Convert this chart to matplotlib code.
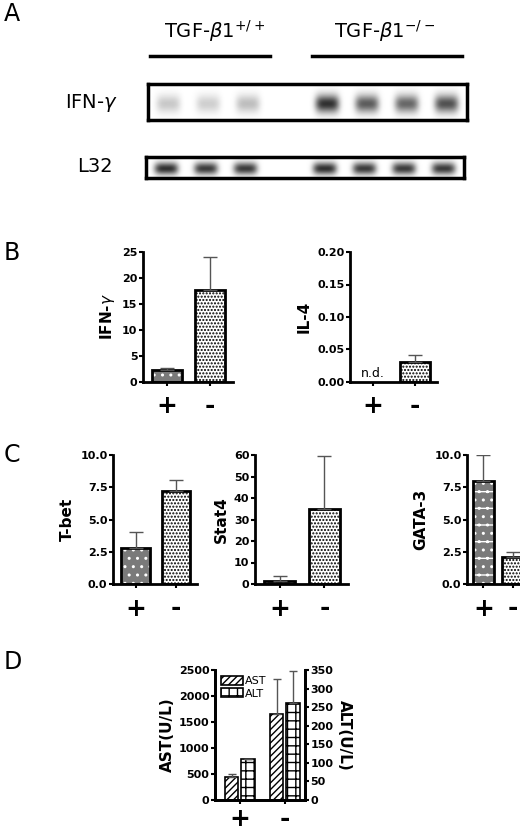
import numpy as np
import matplotlib.pyplot as plt

W, H = 520, 831

# gel band intensities per lane (0..1), estimated
ifn_lanes = [0.25, 0.22, 0.3, 0.0, 0.95, 0.75, 0.7, 0.8]
l32_lanes = [0.95, 0.9, 0.9, 0.0, 0.95, 0.9, 0.9, 0.9]

groups = ['+', '-']
ifn_vals, ifn_err = [2.4, 17.7], [0.3, 6.4]
il4_vals, il4_err = [0.0, 0.03], [0.0, 0.012]
tbet_vals, tbet_err = [2.8, 7.2], [1.2, 0.85]
stat4_vals, stat4_err = [1.5, 35.0], [2.0, 24.5]
gata_vals, gata_err = [8.0, 2.1], [2.0, 0.4]
ast_vals, ast_err = [450, 1650], [50, 680]
alt_vals, alt_err = [110, 262], [0, 85]

plt.rcParams['font.family'] = 'DejaVu Sans'
plt.rcParams['hatch.linewidth'] = 1.0
fig = plt.figure(figsize=(W / 100, H / 100), dpi=100)


def ax_px(x0, y0, x1, y1):
    return fig.add_axes([x0 / W, 1 - y1 / H, (x1 - x0) / W, (y1 - y0) / H])


def ftxt(x, y, s, **kw):
    fig.text(x / W, 1 - y / H, s, **kw)


# panel A
ftxt(4, 14, 'A', fontsize=17, va='center')
ftxt(215, 31, r'TGF-$\beta$1$^{+/+}$', fontsize=14, ha='center', va='center')
ftxt(385, 31, r'TGF-$\beta$1$^{-/-}$', fontsize=14, ha='center', va='center')
for xa, xb in [(150, 270), (312, 462)]:
    fig.add_artist(plt.Line2D([xa / W, xb / W], [1 - 56 / H] * 2, color='black', lw=2.5))


def gel(ax, lanes, width):
    nx, ny = 320, 40
    xs = np.linspace(0, len(lanes), nx)
    ys = np.linspace(0, 1, ny)
    img = np.zeros((ny, nx))
    for i, v in enumerate(lanes):
        gx = np.exp(-((xs - i - 0.5) / 0.3) ** 4)
        gy = np.exp(-((ys - 0.55) / width) ** 2)
        img += v * np.outer(gy, gx)
    ax.imshow(1 - np.clip(img, 0, 1) * 0.85, cmap='gray', vmin=0, vmax=1,
              aspect='auto', extent=[0, len(lanes), 0, 1])
    ax.set_xticks([]); ax.set_yticks([])
    for s in ax.spines.values():
        s.set_linewidth(2.5)


gel(ax_px(148, 84, 467, 120), ifn_lanes, 0.25)
ftxt(118, 103, r'IFN-$\gamma$', fontsize=14, ha='right', va='center')
gel(ax_px(146, 157, 464, 178), l32_lanes, 0.3)
ftxt(113, 167, 'L32', fontsize=14, ha='right', va='center')

STYLES = {
    'plus': dict(face='#7a7a7a', hcol='white', hatch='..'),
    'minus': dict(face='white', hcol='black', hatch='.....'),
    'stripe': dict(face='#7a7a7a', hcol='white', hatch='-..'),
}


def draw_bar(ax, x, v, w, style):
    st = STYLES[style]
    ax.bar(x, v, w, color=st['face'], edgecolor=st['hcol'], hatch=st['hatch'], lw=0)
    ax.bar(x, v, w, color='none', edgecolor='black', lw=2)


def bars(ax, vals, errs, ylabel, ylim, ticks, fmt, styles=('plus', 'minus')):
    x = np.arange(2)
    for i in range(2):
        if vals[i] > 0:
            draw_bar(ax, x[i], vals[i], 0.7, styles[i])
        if errs[i] > 0:
            ax.errorbar(x[i], vals[i], yerr=[[0], [errs[i]]], color='#555555', capsize=5, lw=1)
    ax.set_xlim(-0.56, 1.53)
    ax.set_ylim(*ylim)
    ax.set_yticks(ticks)
    ax.set_yticklabels([fmt.format(t) for t in ticks], fontsize=8, fontweight='bold')
    ax.set_xticks(x)
    ax.set_xticklabels(groups, fontsize=18, fontweight='bold')
    ax.tick_params(axis='x', pad=6, length=3, width=1.5)
    ax.tick_params(axis='y', pad=1, length=3, width=1.5)
    ax.set_ylabel(ylabel, fontsize=11, fontweight='bold', labelpad=4)
    for s in ['top', 'right']:
        ax.spines[s].set_visible(False)
    for s in ['left', 'bottom']:
        ax.spines[s].set_linewidth(2)


ftxt(4, 253, 'B', fontsize=17, va='center')
ax = ax_px(143, 252, 233, 382)
bars(ax, ifn_vals, ifn_err, r'IFN-$\gamma$', (0, 25), [0, 5, 10, 15, 20, 25], '{:g}')
ax = ax_px(350, 252, 437, 382)
bars(ax, il4_vals, il4_err, 'IL-4', (0, 0.2), [0, 0.05, 0.1, 0.15, 0.2], '{:.2f}')
ax.text(0, 0.003, 'n.d.', ha='center', va='bottom', fontsize=9)

ftxt(4, 455, 'C', fontsize=17, va='center')
ax = ax_px(113, 455, 197, 584)
bars(ax, tbet_vals, tbet_err, 'T-bet', (0, 10), [0, 2.5, 5, 7.5, 10], '{:.1f}')
ax = ax_px(255, 455, 348, 584)
bars(ax, stat4_vals, stat4_err, 'Stat4', (0, 60), [0, 10, 20, 30, 40, 50, 60], '{:g}')
ax = ax_px(467, 455, 520, 584)
bars(ax, gata_vals, gata_err, 'GATA-3', (0, 10), [0, 2.5, 5, 7.5, 10], '{:.1f}',
     styles=('stripe', 'minus'))
ax.set_xlim(-0.56, 1.25)

# panel D
ftxt(4, 662, 'D', fontsize=17, va='center')
ax = ax_px(215, 670, 305, 800)
ax2 = ax.twinx()
x = np.arange(2)
w = 0.3
ax.bar(x - w / 2 - 0.03, ast_vals, w, color='white', edgecolor='black', hatch='/////', lw=1.2, label='AST')
ax.errorbar(x - w / 2 - 0.03, ast_vals, yerr=[[0, 0], ast_err], fmt='none', ecolor='#555555', capsize=3, lw=1)
ax2.bar(x + w / 2 + 0.03, alt_vals, w, color='white', edgecolor='black', hatch='++', lw=1.2, label='ALT')
ax2.errorbar(x + w / 2 + 0.03, alt_vals, yerr=[[0, 0], alt_err], fmt='none', ecolor='#555555', capsize=3, lw=1)
ax.set_ylim(0, 2500)
ax2.set_ylim(0, 350)
ax.set_xlim(-0.55, 1.45)
ax.set_yticks(range(0, 2501, 500))
ax2.set_yticks(range(0, 351, 50))
for a in (ax, ax2):
    a.tick_params(axis='y', labelsize=8, pad=1, length=3, width=1.5)
    for lbl in a.get_yticklabels():
        lbl.set_fontweight('bold')
    a.spines['top'].set_visible(False)
    for s in ['left', 'right', 'bottom']:
        a.spines[s].set_linewidth(2)
ax.set_xticks(x)
ax.set_xticklabels(groups, fontsize=18, fontweight='bold')
ax.tick_params(axis='x', pad=2, length=3, width=1.5)
ax.set_ylabel('AST(U/L)', fontsize=11, fontweight='bold', labelpad=3)
ax2.set_ylabel('ALT(U/L)', fontsize=11, fontweight='bold', rotation=270, labelpad=13)
h1, l1 = ax.get_legend_handles_labels()
h2, l2 = ax2.get_legend_handles_labels()
ax.legend(h1 + h2, l1 + l2, loc='upper left', fontsize=8, frameon=False,
          handlelength=2.0, handleheight=0.9, handletextpad=0.2,
          borderaxespad=0.1, labelspacing=0.2)

fig.savefig('out.png', dpi=100)
